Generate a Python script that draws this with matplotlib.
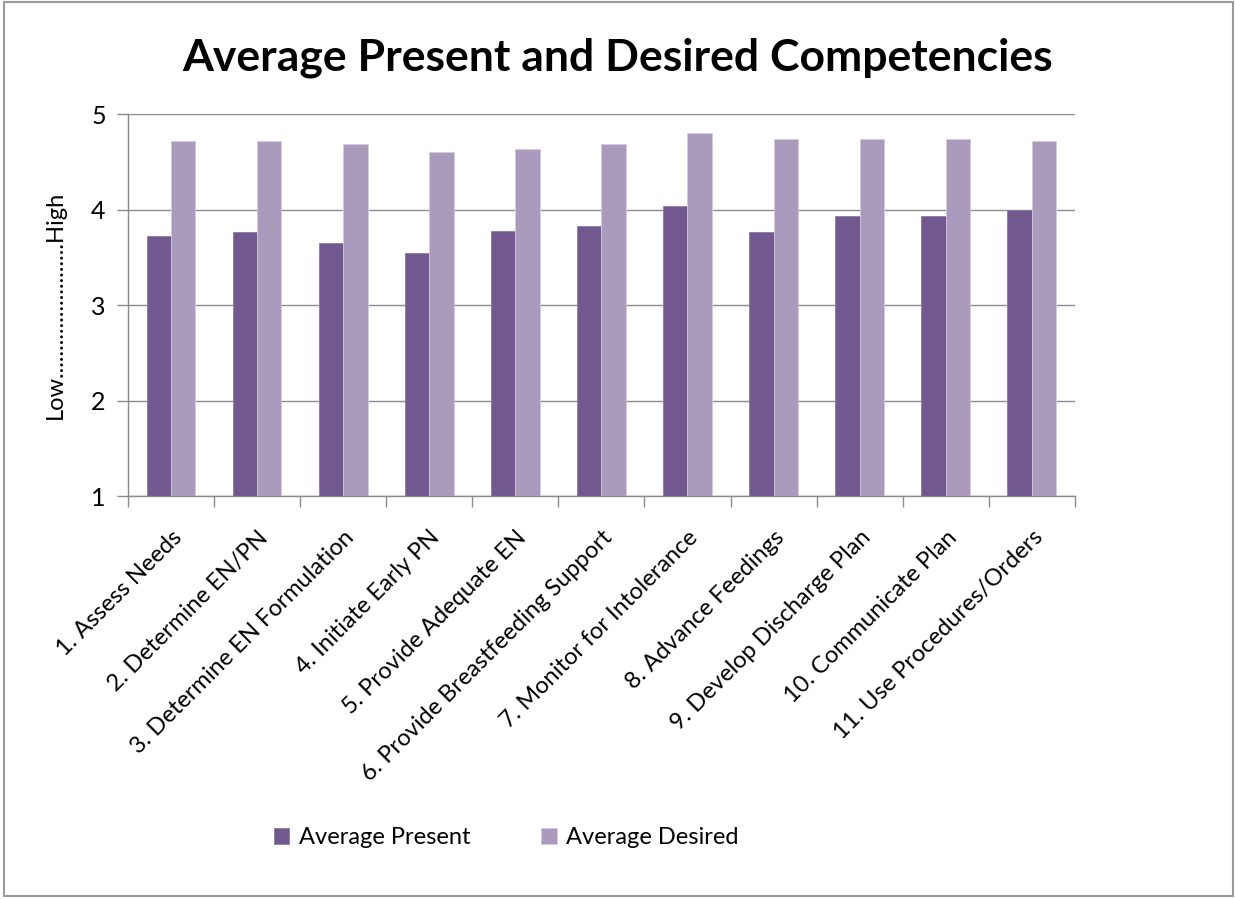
import numpy as np
import matplotlib.pyplot as plt
from matplotlib.patches import Rectangle

plt.rcParams['font.family'] = ['Lato', 'DejaVu Sans']

categories = [
    "1. Assess Needs",
    "2. Determine EN/PN",
    "3. Determine EN Formulation",
    "4. Initiate Early PN",
    "5. Provide Adequate EN",
    "6. Provide Breastfeeding Support",
    "7. Monitor for Intolerance",
    "8. Advance Feedings",
    "9. Develop Discharge Plan",
    "10. Communicate Plan",
    "11. Use Procedures/Orders",
]
avg_present = [3.72, 3.77, 3.65, 3.55, 3.78, 3.83, 4.04, 3.77, 3.93, 3.93, 4.00]
avg_desired = [4.72, 4.72, 4.69, 4.60, 4.64, 4.69, 4.80, 4.74, 4.74, 4.74, 4.72]

c_present = '#71588F'
c_desired = '#AA9BBD'
grid_c = '#8C8C8C'

fig = plt.figure(figsize=(12.35, 8.99), dpi=100)
ax = fig.add_axes([0.1036, 0.448, 0.7667, 0.425])

x = np.arange(len(categories))
w = 0.283
ax.bar(x - w / 2, np.array(avg_present) - 1, w, bottom=1, color=c_present,
       edgecolor='#8E7AA8', linewidth=0.6, label='Average Present', zorder=3)
ax.bar(x + w / 2, np.array(avg_desired) - 1, w, bottom=1, color=c_desired,
       edgecolor='#D3CADF', linewidth=0.6, label='Average Desired', zorder=3)

ax.set_xlim(-0.5, len(categories) - 0.5)
ax.set_ylim(1, 5)
ax.set_yticks([1, 2, 3, 4, 5])
ax.yaxis.grid(True, color=grid_c, linewidth=1.0, zorder=0)
ax.set_axisbelow(True)

for s in ['top', 'right']:
    ax.spines[s].set_visible(False)
for s in ['left', 'bottom']:
    ax.spines[s].set_color(grid_c)
    ax.spines[s].set_linewidth(1.0)

# category labels sit under the centres, tick marks between categories
ax.set_xticks(np.arange(-0.5, len(categories), 1.0))
ax.set_xticklabels([])
ax.set_xticks(x, minor=True)
ax.set_xticklabels(categories, minor=True, rotation=45, ha='right',
                   rotation_mode='anchor', fontsize=17)
ax.tick_params(axis='x', which='minor', length=0, pad=22)
ax.tick_params(axis='x', which='major', length=8, width=1, color=grid_c)
ax.tick_params(axis='y', length=8, width=1, color=grid_c, labelsize=18, pad=8)

ax.set_ylabel('Low' + '.' * 24 + 'High', fontsize=17, labelpad=18)

fig.suptitle('Average Present and Desired Competencies', fontsize=32,
             fontweight='bold', x=0.5, y=0.958)

fig.legend(loc='center', bbox_to_anchor=(0.41, 0.068), ncol=2, frameon=False,
           fontsize=17, handlelength=0.65, handleheight=0.65, columnspacing=3.0,
           handletextpad=0.4)

fig.patches.append(Rectangle((0.003, 0.003), 0.995, 0.995, transform=fig.transFigure,
                             fill=False, edgecolor='#9A9A9A', linewidth=1.5))

fig.savefig('out.png', dpi=100)
